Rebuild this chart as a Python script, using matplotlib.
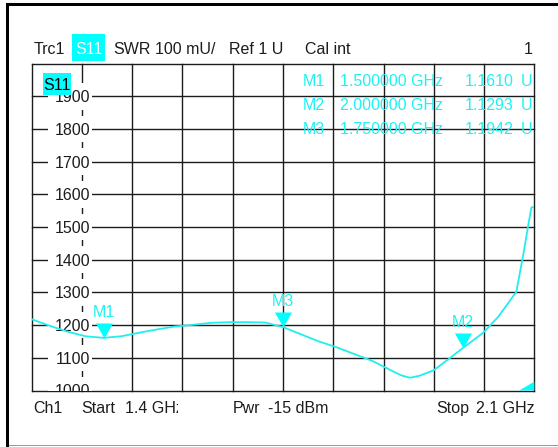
import matplotlib
matplotlib.use("Agg")
import matplotlib.pyplot as plt
from matplotlib.patches import Rectangle, Polygon
from matplotlib.path import Path
from matplotlib.transforms import blended_transform_factory, ScaledTranslation, Bbox, TransformedBbox

# ---- data -------------------------------------------------------------
freq_ghz = [1.400, 1.425, 1.450, 1.475, 1.500, 1.525, 1.550, 1.575, 1.600,
            1.625, 1.650, 1.675, 1.700, 1.725, 1.750, 1.775, 1.800, 1.825,
            1.850, 1.875, 1.900, 1.915, 1.927, 1.940, 1.960, 1.980, 2.000,
            2.029, 2.050, 2.075, 2.085, 2.092, 2.096, 2.100]
swr_mu = [1218, 1198, 1180, 1166, 1161, 1166, 1177, 1187, 1196,
          1201, 1207, 1209, 1209, 1208, 1194, 1172, 1150, 1132,
          1111, 1090, 1062, 1046, 1039, 1045, 1062, 1095, 1129,
          1177, 1226, 1302, 1420, 1511, 1560, 1562]

marker_names = ["M1", "M2", "M3"]
marker_freq = [1.5, 2.0, 1.75]          # GHz
marker_swr = [1.1610, 1.1293, 1.1942]   # U

y_tick_values = [1000, 1100, 1200, 1300, 1400, 1500, 1600, 1700, 1800, 1900]
f_start, f_stop = 1.4, 2.1
y_min, y_max = 1000, 2000

# ---- styling ----------------------------------------------------------
W, H = 558, 447
CYAN = "#00FFFF"
TRACE = "#22EEEE"
TXT_CYAN = "#1EF2F2"
INK = "#1c1c1c"
FS = 11.5

plt.rcParams["font.family"] = ["Liberation Sans", "DejaVu Sans"]

fig = plt.figure(figsize=(W / 100, H / 100), dpi=100)
fig.patch.set_facecolor("white")


def fx(x):
    return x / W


def fy(y):
    return 1 - y / H


def ftext(x, y, s, **kw):
    kw.setdefault("fontsize", FS)
    kw.setdefault("color", INK)
    kw.setdefault("va", "baseline")
    return fig.text(fx(x), fy(y), s, **kw)


def frect(x0, y0, x1, y1, color, **kw):
    r = Rectangle((fx(x0), fy(y1)), fx(x1) - fx(x0), fy(y0) - fy(y1),
                  transform=fig.transFigure, facecolor=color,
                  edgecolor="none", **kw)
    fig.patches.append(r)
    return r


# outer window frame
frect(6, 3, W, 6.3, "black")
frect(6, 3, 9.3, H, "black")
frect(9.3, 444.5, W, 446, "#9a9a9a")

# ---- diagram area -----------------------------------------------------
px_left, px_right, px_top, px_bottom = 31.7, 534.3, 63.6, 390.5
ax = fig.add_axes([fx(px_left), fy(px_bottom),
                   fx(px_right) - fx(px_left), fy(px_top) - fy(px_bottom)])
ax.set_xlim(f_start, f_stop)
ax.set_ylim(y_min, y_max)
ax.set_xticks([])
ax.set_yticks([])
for sp in ax.spines.values():
    sp.set_visible(False)
ax.patch.set_alpha(0)

# graticule: 10 x 10 divisions
for k in range(11):
    ax.axvline(f_start + k * (f_stop - f_start) / 10, color=INK, lw=1.0,
               zorder=1, clip_on=False)
    ax.axhline(y_min + k * (y_max - y_min) / 10, color=INK, lw=1.0,
               zorder=1, clip_on=False)

# scale labels sitting on the grid with a white backing
blend = blended_transform_factory(ax.transAxes, ax.transData)
lab_shift = ScaledTranslation(0, -6.0 / 100, fig.dpi_scale_trans)
ax_w_px = px_right - px_left
half_h = 13.3 / ((px_bottom - px_top) / (y_max - y_min))
for v in y_tick_values:
    ax.add_patch(Rectangle(((48 - px_left) / ax_w_px, v - half_h),
                           (92 - 48) / ax_w_px, 2 * half_h,
                           transform=blend, facecolor="white",
                           edgecolor="none", zorder=2, clip_on=True))
    ax.text((90.5 - px_left) / ax_w_px, v, f"{v}", transform=blend + lab_shift,
            ha="right", va="baseline", fontsize=FS, color=INK, zorder=3,
            clip_on=True)

# trace
ax.plot(freq_ghz, swr_mu, color=TRACE, lw=1.3, zorder=4, clip_on=True)

# markers: downward triangles whose tip sits on the trace value
tri = Path([(-8.5, 15), (8.5, 15), (0, 0), (-8.5, 15)],
           [Path.MOVETO, Path.LINETO, Path.LINETO, Path.CLOSEPOLY])
for name, f, s in zip(marker_names, marker_freq, marker_swr):
    ax.plot([f], [s * 1000], linestyle="none", marker=tri, markersize=21.6,
            markerfacecolor=CYAN, markeredgewidth=0, zorder=5)
    ax.annotate(name, (f, s * 1000), xytext=(0, 21 * 0.72),
                textcoords="offset points", ha="center", va="baseline",
                fontsize=FS, color=TXT_CYAN, zorder=5)

# out-of-range indicator in the lower right corner
ax.add_patch(Polygon([(0.970, 0.0), (1.0, 0.027), (1.0, 0.0)],
                     closed=True, transform=ax.transAxes, facecolor=CYAN,
                     edgecolor="none", zorder=5, clip_on=False))

# marker readout table
row_y = [85.5, 109.5, 133.5]
for y, name, f, s in zip(row_y, marker_names, marker_freq, marker_swr):
    ftext(303, y, name, color=TXT_CYAN, zorder=6)
    ftext(340, y, f"{f:.6f} GHz", color=TXT_CYAN, zorder=6)
    ftext(514, y, f"{s:.4f}", color=TXT_CYAN, ha="right", zorder=6)
    ftext(532.5, y, "U", color=TXT_CYAN, ha="right", zorder=6)

# trace tag inside the diagram
frect(42.7, 72.7, 71, 95, CYAN, zorder=7)
ftext(56.8, 90.5, "S11", ha="center", color="black", zorder=8)

# ---- header line ------------------------------------------------------
ftext(34, 54.3, "Trc1")
frect(72, 34.3, 105, 61, CYAN)
ftext(88.5, 54.3, "S11", ha="center", color="white")
ftext(113, 54.3, "SWR")
ftext(155, 54.3, "100 mU/")
ftext(229, 54.3, "Ref 1 U")
ftext(305, 54.3, "Cal int")
ftext(532.5, 54.3, "1", ha="right")

# ---- footer line ------------------------------------------------------
ftext(33, 413, "Ch1")
ftext(81.7, 413, "Start")
t = ftext(125, 413, "1.4 GHz")
t.set_clip_box(TransformedBbox(Bbox([[0, 0], [fx(178), 1]]), fig.transFigure))
t.set_clip_on(True)
ftext(233, 413, "Pwr")
ftext(268, 413, "-15 dBm")
ftext(436, 413, "Stop")
ftext(535, 413, "2.1 GHz", ha="right")

fig.savefig("out.png", dpi=100)
